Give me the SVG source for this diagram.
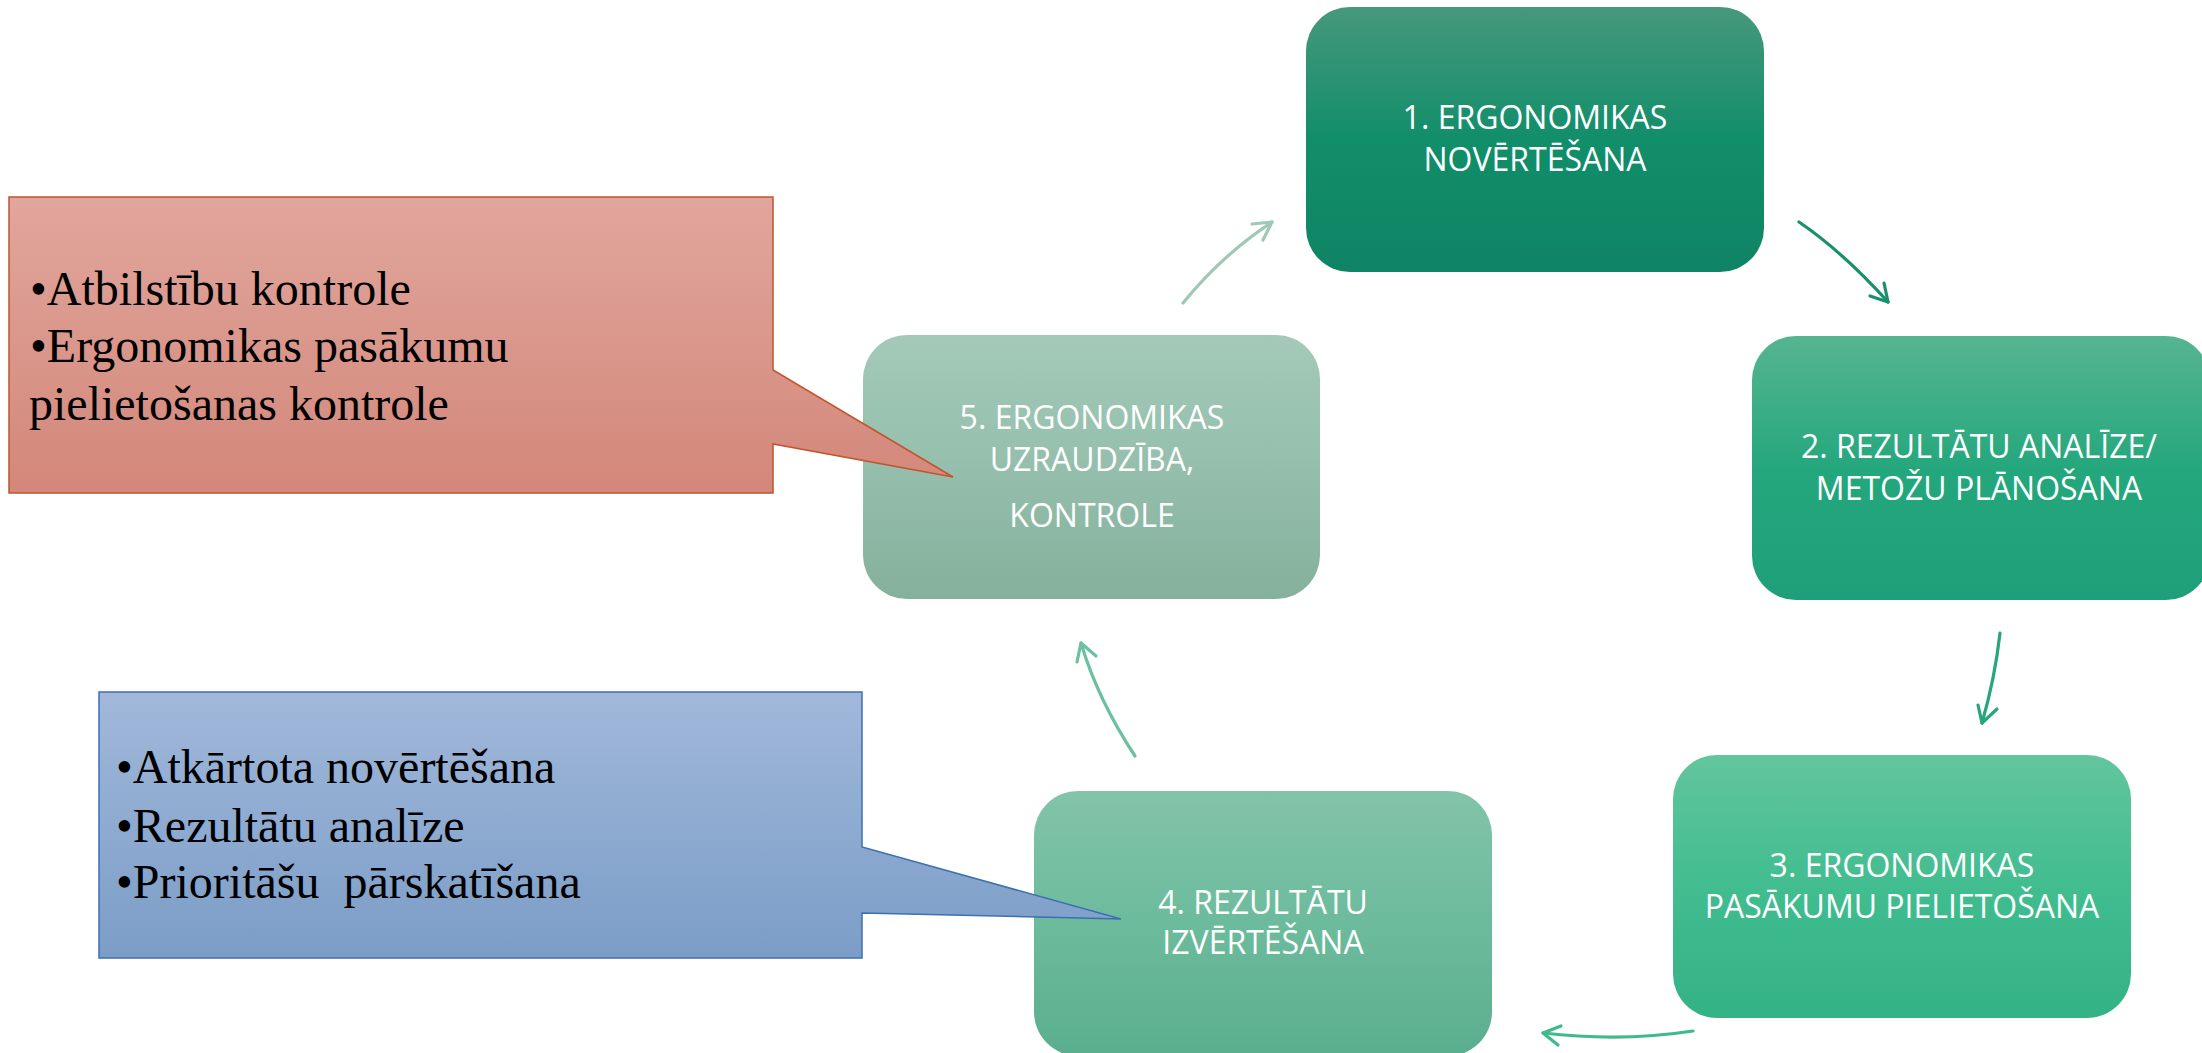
<svg xmlns="http://www.w3.org/2000/svg" width="2202" height="1053" viewBox="0 0 2202 1053">
<style>
.nt{font-family:"Open Sans","Noto Sans",sans-serif;font-size:32px;fill:#ffffff;text-anchor:middle}
.ct{font-family:"Liberation Serif","Times New Roman",serif;font-size:48px;fill:#000000;white-space:pre}
.ar{fill:none;stroke-width:3.2;stroke-linecap:round;stroke-linejoin:round}
</style>
<defs>
<linearGradient id="g1" x1="0" y1="0" x2="0" y2="1"><stop offset="0" stop-color="#47987c"/><stop offset="0.5" stop-color="#118e6a"/><stop offset="1" stop-color="#0f8464"/></linearGradient>
<linearGradient id="g2" x1="0" y1="0" x2="0" y2="1"><stop offset="0" stop-color="#56b591"/><stop offset="0.5" stop-color="#25a77d"/><stop offset="1" stop-color="#1e9f79"/></linearGradient>
<linearGradient id="g3" x1="0" y1="0" x2="0" y2="1"><stop offset="0" stop-color="#63c59d"/><stop offset="0.5" stop-color="#41bd90"/><stop offset="1" stop-color="#33b286"/></linearGradient>
<linearGradient id="g4" x1="0" y1="0" x2="0" y2="1"><stop offset="0" stop-color="#82c4a9"/><stop offset="0.5" stop-color="#6cbb9c"/><stop offset="1" stop-color="#5aae8e"/></linearGradient>
<linearGradient id="g5" x1="0" y1="0" x2="0" y2="1"><stop offset="0" stop-color="#a4c9b9"/><stop offset="0.5" stop-color="#95bfac"/><stop offset="1" stop-color="#84b09c"/></linearGradient>
<linearGradient id="gr" x1="0" y1="0" x2="0" y2="1"><stop offset="0" stop-color="#e1a69c"/><stop offset="1" stop-color="#d3877a"/></linearGradient>
<linearGradient id="gb" x1="0" y1="0" x2="0" y2="1"><stop offset="0" stop-color="#a1b8da"/><stop offset="1" stop-color="#7b9dc7"/></linearGradient>
</defs>
<rect width="2202" height="1053" fill="#ffffff"/>

<g id="node1">
<rect x="1306" y="7" width="458" height="265" rx="44" fill="url(#g1)"/>
<text class="nt" x="1535" y="129">1. ERGONOMIKAS</text>
<text class="nt" x="1535" y="171">NOVĒRTĒŠANA</text>
</g>

<g id="node2">
<rect x="1752" y="336" width="458" height="264" rx="44" fill="url(#g2)"/>
<text class="nt" x="1979" y="458">2. REZULTĀTU ANALĪZE/</text>
<text class="nt" x="1979" y="500">METOŽU PLĀNOŠANA</text>
</g>

<g id="node3">
<rect x="1673" y="755" width="458" height="263" rx="44" fill="url(#g3)"/>
<text class="nt" x="1902" y="877">3. ERGONOMIKAS</text>
<text class="nt" x="1902" y="918">PASĀKUMU PIELIETOŠANA</text>
</g>

<g id="node4">
<rect x="1034" y="791" width="458" height="265" rx="44" fill="url(#g4)"/>
<text class="nt" x="1263" y="914">4. REZULTĀTU</text>
<text class="nt" x="1263" y="954">IZVĒRTĒŠANA</text>
</g>

<g id="node5">
<rect x="863" y="335" width="457" height="264" rx="44" fill="url(#g5)"/>
<text class="nt" x="1092" y="429">5. ERGONOMIKAS</text>
<text class="nt" x="1092" y="471">UZRAUDZĪBA,</text>
<text class="nt" x="1092" y="527">KONTROLE</text>
</g>

<g id="callout-red">
<path d="M9,197 H773 V370 L953,477 L773,444 V493 H9 Z" fill="url(#gr)" stroke="#c0552e" stroke-width="1.5"/>
<text class="ct" x="30" y="305">•Atbilstību kontrole</text>
<text class="ct" x="30" y="362">•Ergonomikas pasākumu</text>
<text class="ct" x="29" y="420">pielietošanas kontrole</text>
</g>

<g id="callout-blue">
<path d="M99,692 H862 V847 L1121,919 L862,913 V958 H99 Z" fill="url(#gb)" stroke="#3c70b0" stroke-width="1.5"/>
<text class="ct" x="116" y="783">•Atkārtota novērtēšana</text>
<text class="ct" x="116" y="842">•Rezultātu analīze</text>
<text class="ct" x="116" y="898">•Prioritāšu  pārskatīšana</text>
</g>

<g id="connectors">
<path class="ar" stroke="#9dc9b5" d="M1183,303 Q1222,255 1272,222"/>
<polyline class="ar" stroke="#9dc9b5" points="1252,224 1272,222 1263,240"/>
<path class="ar" stroke="#19906c" d="M1799,222 Q1843,252 1888,302"/>
<polyline class="ar" stroke="#19906c" points="1870,296 1888,302 1884,283"/>
<path class="ar" stroke="#27a67c" d="M2000,633 Q1995,678 1982,723"/>
<polyline class="ar" stroke="#27a67c" points="1978,705 1982,723 1997,709"/>
<path class="ar" stroke="#40b98c" d="M1693,1031 Q1622,1042 1543,1033"/>
<polyline class="ar" stroke="#40b98c" points="1561,1026 1543,1033 1558,1045"/>
<path class="ar" stroke="#6cc0a0" d="M1135,756 Q1098,700 1081,643"/>
<polyline class="ar" stroke="#6cc0a0" points="1077,662 1081,643 1096,656"/>
</g>
</svg>
